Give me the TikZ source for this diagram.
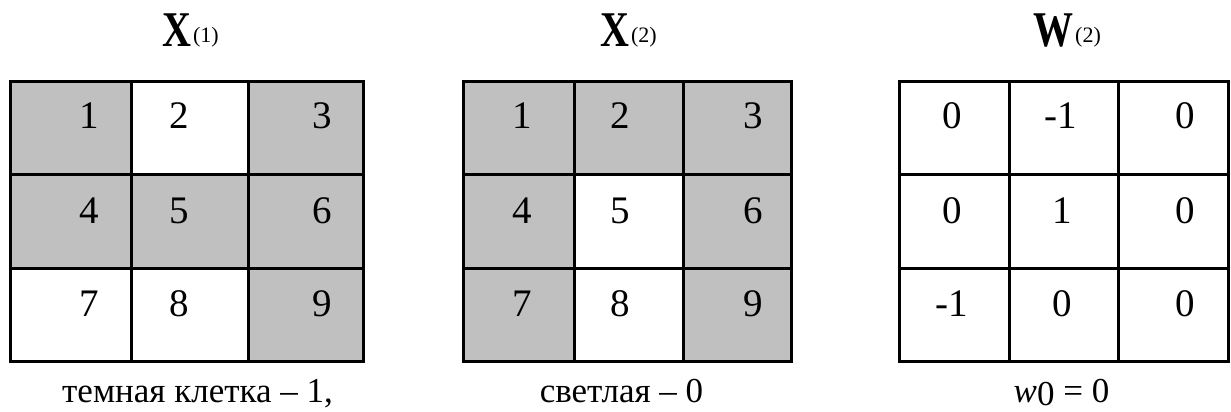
\documentclass[tikz,border=0pt]{standalone}
\usepackage{fontspec}
\setmainfont{Liberation Serif}
\usetikzlibrary{positioning}
\definecolor{cellgray}{HTML}{C0C0C0}
\newcommand{\Bold}[1]{\scalebox{0.8}[1]{\bfseries #1}}

\begin{document}
\begin{tikzpicture}[
      x=0.5pt,y=-0.5pt,
      grid/.style={draw=black,line width=1.5pt},
      dark/.style={fill=cellgray},
      num/.style={inner sep=0pt,font=\fontsize{19.5}{21}\selectfont},
      title/.style={inner sep=0pt,anchor=base west,font=\fontsize{25}{27}\selectfont},
      idx/.style={inner sep=0pt,anchor=base west,xshift=0.5pt,yshift=2pt,font=\fontsize{11}{12}\selectfont},
      caption/.style={inner sep=0pt,anchor=base,font=\fontsize{17.5}{19}\selectfont}
    ]
    \useasboundingbox (0,0) rectangle (1231,412);
    % dark cells of X(1) and X(2)
    \fill[dark] (10,81) rectangle (131,174) (248,81) rectangle (363,174)
                (10,174) rectangle (248,268) (248,174) rectangle (363,361);
    \fill[dark] (463,81) rectangle (791,174) (463,174) rectangle (574,361)
                (683,174) rectangle (791,361);
    % the three 3x3 grids
    \foreach \xa/\xb/\xc/\xd in {10/131/248/363,463/574/683/791,899/1009/1118/1228}
      \draw[grid] (\xa,81) rectangle (\xd,361)
                  (\xb,81) -- (\xb,361) (\xc,81) -- (\xc,361)
                  (\xa,174) -- (\xd,174) (\xa,268) -- (\xd,268);
    % cell values
    \foreach \n/\x/\y/\t in {a1/89/116/1,a2/179/116/2,a3/322/116/3,
                             a4/89/210.5/4,a5/179/210.5/5,a6/322/210.5/6,
                             a7/89/303.5/7,a8/179/303.5/8,a9/322/303.5/9,
                             b1/522/116/1,b2/620/116/2,b3/753/116/3,
                             b4/522/210.5/4,b5/620/210.5/5,b6/753/210.5/6,
                             b7/522/303.5/7,b8/620/303.5/8,b9/753/303.5/9,
                             w1/952/116/0,w2/1061/116/-1,w3/1185/116/0,
                             w4/952/210.5/0,w5/1062/210.5/1,w6/1185/210.5/0,
                             w7/952/303.5/-1,w8/1062/303.5/0,w9/1185/303.5/0}
      \node[num] (\n) at (\x,\y) {\t};
    % titles
    \node[title] (tx1) at (162,46.5) {\Bold{X}};
    \node[idx] (ix1) at (tx1.base east) {(1)};
    \node[title] (tx2) at (600,46.5) {\Bold{X}};
    \node[idx] (ix2) at (tx2.base east) {(2)};
    \node[title] (tw2) at (1033,46.5) {\Bold{W}};
    \node[idx] (iw2) at (tw2.base east) {(2)};
    % captions
    \node[caption] (cap1) at (197.5,402) {темная клетка – 1,};
    \node[caption] (cap2) at (621.5,402) {светлая – 0};
    \node[caption] (cap3) at (1061.5,402) {\textit{w}\raisebox{-1.5pt}{0} = 0};
  \end{tikzpicture}
\end{document}
